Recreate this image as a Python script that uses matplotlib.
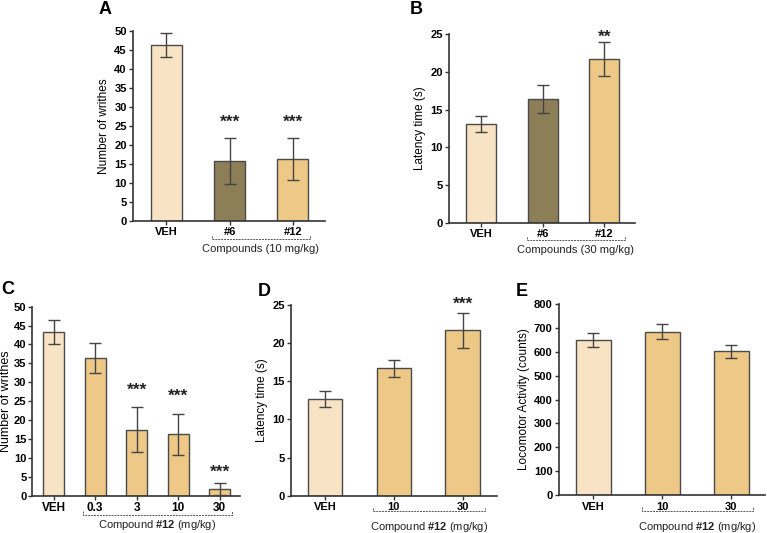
import matplotlib
matplotlib.use("Agg")
import matplotlib.pyplot as plt

plt.rcParams.update({
    "font.family": ["Liberation Sans", "DejaVu Sans"],
    "mathtext.fontset": "custom",
    "mathtext.rm": "Liberation Sans",
    "mathtext.bf": "Liberation Sans:bold",
    "axes.linewidth": 1.2,
    "axes.edgecolor": "#333333",
})

VEH_C = "#f8e4c4"
C6_C = "#8c7e57"
C12_C = "#edc886"

# panel A - writhing, 10 mg/kg
a_labels = ["VEH", "#6", "#12"]
a_mean = [46.3, 15.8, 16.3]
a_sem = [3.15, 6.0, 5.5]
a_stars = ["", "***", "***"]
a_star_y = [0, 26.0, 26.0]

# panel B - latency, 30 mg/kg
b_labels = ["VEH", "#6", "#12"]
b_mean = [13.1, 16.4, 21.7]
b_sem = [1.05, 1.8, 2.3]
b_stars = ["", "", "**"]
b_star_y = [0, 0, 24.6]

# panel C - writhing, dose response #12
c_labels = ["VEH", "0.3", "3", "10", "30"]
c_mean = [43.3, 36.4, 17.5, 16.2, 1.7]
c_sem = [3.1, 4.0, 6.0, 5.5, 1.6]
c_stars = ["", "", "***", "***", "***"]
c_star_y = [0, 0, 28.0, 26.4, 6.2]

# panel D - latency, #12
d_labels = ["VEH", "10", "30"]
d_mean = [12.7, 16.7, 21.7]
d_sem = [1.05, 1.1, 2.3]
d_stars = ["", "", "***"]
d_star_y = [0, 0, 25.1]

# panel E - locomotor activity
e_labels = ["VEH", "10", "30"]
e_mean = [648, 683, 602]
e_sem = [30, 31, 27]


def panel(rect, labels, mean, sem, colors, width, xlim, ylim, yticks, ylabel,
          letter, letter_xy, xtitle, br, br_y, title_y, stars=None, star_y=None,
          tfs=8, lfs=8.5, xfs=8):
    ax = fig.add_axes(rect)
    x = list(range(len(labels)))
    ax.bar(x, mean, width=width, color=colors, edgecolor="#4a4a4a", linewidth=1.0, zorder=2)
    ax.errorbar(x, mean, yerr=sem, fmt="none", ecolor="#444444", elinewidth=1.0,
                capsize=4.5, capthick=1.0, zorder=3)
    if stars:
        for xi, s, sy in zip(x, stars, star_y):
            if s:
                ax.text(xi, sy, s, ha="center", va="center", fontsize=12.5,
                        fontweight="bold", color="#222222")
    ax.set_xlim(*xlim)
    ax.set_ylim(*ylim)
    ax.set_yticks(yticks)
    ax.set_xticks(x)
    ax.set_xticklabels(labels, fontweight="bold", fontsize=xfs)
    for t in ax.get_yticklabels():
        t.set_fontweight("bold")
        t.set_fontsize(tfs)
    ax.tick_params(length=3, width=1.0, pad=1.5, color="#333333")
    ax.spines["top"].set_visible(False)
    ax.spines["right"].set_visible(False)
    ax.set_ylabel(ylabel, fontsize=lfs, labelpad=3)
    tr = ax.get_xaxis_transform()
    ax.plot([br[0], br[0], br[1], br[1]], [br_y + 0.018, br_y, br_y, br_y + 0.018],
            transform=tr, clip_on=False, color="#555555", lw=0.7, ls=(0, (2, 1)))
    ax.text((br[0] + br[1]) / 2, title_y, xtitle, transform=tr, ha="center",
            va="center", fontsize=8, color="#222222")
    fig.text(letter_xy[0] / 767, 1 - letter_xy[1] / 533, letter, fontsize=13,
             fontweight="bold", ha="center", va="center")
    return ax


fig = plt.figure(figsize=(7.67, 5.33), dpi=100)

panel([0.1734, 0.5854, 0.2503, 0.3565], a_labels, a_mean, a_sem,
      [VEH_C, C6_C, C12_C], 0.49, (-0.53, 2.51), (0, 50), range(0, 51, 5),
      "Number of writhes", "A", (105, 10), "Compounds (10 mg/kg)",
      (0.72, 2.27), -0.095, -0.148, a_stars, a_star_y)

panel([0.5854, 0.5816, 0.2425, 0.3546], b_labels, b_mean, b_sem,
      [VEH_C, C6_C, C12_C], 0.49, (-0.52, 2.50), (0, 25), range(0, 26, 5),
      "Latency time (s)", "B", (416, 10), "Compounds (30 mg/kg)",
      (0.74, 2.33), -0.09, -0.145, b_stars, b_star_y)

ax_c = panel([0.0417, 0.070, 0.2712, 0.3546], c_labels, c_mean, c_sem,
             [VEH_C] + [C12_C] * 4, 0.506, (-0.52, 4.49), (0, 50), range(0, 51, 5),
             "Number of writhes", "C", (8, 290), r"Compound $\mathbf{\#12}$ (mg/kg)",
             (0.71, 4.30), -0.10, -0.155, c_stars, c_star_y,
             tfs=8, lfs=9, xfs=8.5)
ax_c.tick_params(axis="y", pad=1)
ax_c.yaxis.set_label_coords(-0.095, 0.5)

panel([0.3794, 0.070, 0.2686, 0.3578], d_labels, d_mean, d_sem,
      [VEH_C, C12_C, C12_C], 0.50, (-0.495, 2.50), (0, 25), range(0, 26, 5),
      "Latency time (s)", "D", (264, 291), r"Compound $\mathbf{\#12}$ (mg/kg)",
      (0.70, 2.33), -0.08, -0.165, d_stars, d_star_y)

panel([0.7288, 0.0707, 0.2686, 0.3595], e_labels, e_mean, e_sem,
      [VEH_C, C12_C, C12_C], 0.51, (-0.50, 2.49), (0, 800), range(0, 801, 100),
      "Locomotor Activity (counts)", "E", (522, 291), r"Compound $\mathbf{\#12}$ (mg/kg)",
      (0.70, 2.31), -0.08, -0.165)

fig.savefig("out.png", dpi=100)
